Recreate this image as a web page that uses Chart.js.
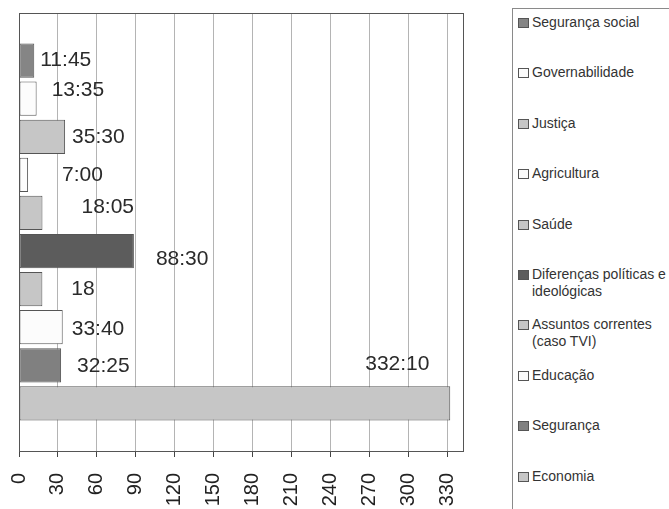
<!DOCTYPE html>
<html>
<head>
<meta charset="utf-8">
<script src="https://cdn.jsdelivr.net/npm/chart.js@4/dist/chart.umd.min.js"></script>
<style>
  html, body { margin: 0; padding: 0; background: #fff; overflow: hidden; }
  #wrap { position: relative; width: 669px; height: 509px; }
  #chartBox { position: absolute; left: 0; top: 0; width: 480px; height: 509px; }
  #legend {
    position: absolute; left: 512px; top: 8px; width: 170px; height: 520px;
    border-left: 1px solid #8a8a8a; border-top: 1px solid #8a8a8a;
    font-family: "Liberation Sans", Arial, sans-serif; font-size: 14px; color: #333;
  }
  .item { position: absolute; left: 5px; width: 160px; }
  .sw { position: absolute; left: 0; top: 4px; width: 9px; height: 8px; border: 1px solid #555; }
  .txt { position: absolute; left: 14px; width: 143px; line-height: 17px; }
</style>
</head>
<body>
<div id="wrap">
  <div id="chartBox"><canvas id="myChart" width="480" height="509"></canvas></div>
  <div id="legend"></div>
</div>
<script>
// temas, de cima para baixo
var categories = ['Segurança social', 'Governabilidade', 'Justiça', 'Agricultura', 'Saúde',
  'Diferenças políticas e ideológicas', 'Assuntos correntes (caso TVI)', 'Educação', 'Segurança', 'Economia'];
// tempo em horas (hh:mm convertido)
var values = [11.75, 13.58, 35.5, 7, 18.08, 88.5, 18, 33.67, 32.42, 332.17];
var valueLabels = ['11:45', '13:35', '35:30', '7:00', '18:05', '88:30', '18', '33:40', '32:25', '332:10'];
var xTicks = [0, 30, 60, 90, 120, 150, 180, 210, 240, 270, 300, 330];

var fills = ['#858585', '#fcfcfc', '#c6c6c6', '#fcfcfc', '#c6c6c6', '#5c5c5c', '#c6c6c6', '#fcfcfc', '#808080', '#c6c6c6'];
// deslocamento dos rotulos [dx, dy]
var labelNudge = [[6, 0], [15, -8], [7, 0], [34, 0], [39, -6], [22, 8], [29, 0], [9, 2], [16, 1], [-85, -39]];

var datasets = [];
for (var i = 0; i < categories.length; i++) {
  datasets.push({
    label: categories[i],
    data: [{ x: values[i], y: i }],
    backgroundColor: fills[i],
    borderColor: '#555',
    borderWidth: 1,
    borderSkipped: false,
    grouped: false,
    categoryPercentage: 1,
    barPercentage: 0.9
  });
}

var boxPlugin = {
  id: 'box',
  afterDraw: function (chart) {
    var a = chart.chartArea, c = chart.ctx;
    c.save();
    c.strokeStyle = '#555';
    c.lineWidth = 1;
    c.strokeRect(Math.round(a.left) + 0.5, Math.round(a.top) + 0.5,
      Math.round(a.right - a.left), Math.round(a.bottom - a.top));
    c.restore();
  }
};

var labelPlugin = {
  id: 'vals',
  afterDatasetsDraw: function (chart) {
    var c = chart.ctx;
    c.save();
    c.font = '21px "Liberation Sans", Arial, sans-serif';
    c.fillStyle = '#2a2a2a';
    c.textAlign = 'left';
    c.textBaseline = 'middle';
    for (var i = 0; i < valueLabels.length; i++) {
      var bar = chart.getDatasetMeta(i).data[0];
      c.fillText(valueLabels[i], bar.x + labelNudge[i][0], bar.y + labelNudge[i][1]);
    }
    c.restore();
  }
};

var ctx1 = document.getElementById('myChart').getContext('2d');
new Chart(ctx1, {
  type: 'bar',
  data: { datasets: datasets },
  plugins: [boxPlugin, labelPlugin],
  options: {
    indexAxis: 'y',
    responsive: false,
    animation: false,
    devicePixelRatio: 1,
    layout: { padding: { left: 19, top: 13, right: 17, bottom: 0 } },
    plugins: { legend: { display: false }, tooltip: { enabled: false } },
    scales: {
      y: { type: 'linear', reverse: true, offset: false, min: -1.25, max: 10.25, display: false },
      x: {
        type: 'linear', min: 0, max: 342,
        afterBuildTicks: function (s) { s.ticks = xTicks.map(function (v) { return { value: v }; }); },
        afterFit: function (s) { s.height = 58; s.paddingLeft = 0; s.paddingRight = 0; },
        grid: { color: '#b4b4b4', lineWidth: 1, tickLength: 6, tickColor: '#444' },
        border: { display: true, color: '#444' },
        ticks: {
          autoSkip: false, minRotation: 90, maxRotation: 90, padding: 16,
          color: '#222', font: { family: '"Liberation Sans", Arial, sans-serif', size: 20 }
        }
      }
    }
  }
});

// legenda
var lg = document.getElementById('legend');
for (var j = 0; j < categories.length; j++) {
  var it = document.createElement('div');
  it.className = 'item';
  it.style.top = (5 + j * 50.4) + 'px';
  it.innerHTML = '<span class="sw" style="background:' + fills[j] + '"></span><span class="txt"></span>';
  it.querySelector('.txt').textContent = categories[j];
  lg.appendChild(it);
}
</script>
</body>
</html>
